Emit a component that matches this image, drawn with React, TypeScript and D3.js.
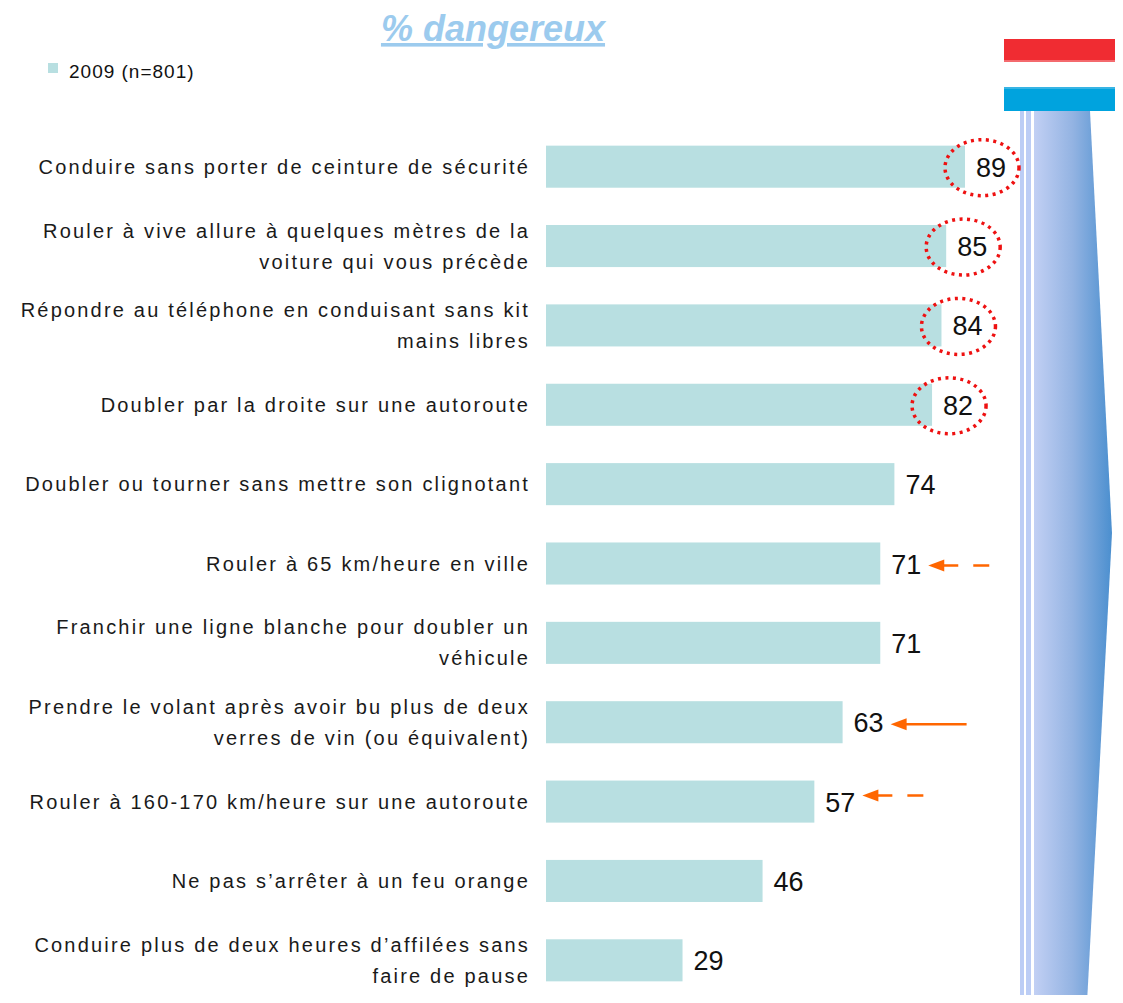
import React from "react";
import * as d3 from "d3";

const categories: string[][] = [
  ["Conduire sans porter de ceinture de sécurité"],
  ["Rouler à vive allure à quelques mètres de la", "voiture qui vous précède"],
  ["Répondre au téléphone en conduisant sans kit", "mains libres"],
  ["Doubler par la droite sur une autoroute"],
  ["Doubler ou tourner sans mettre son clignotant"],
  ["Rouler à 65 km/heure en ville"],
  ["Franchir une ligne blanche pour doubler un", "véhicule"],
  ["Prendre le volant après avoir bu plus de deux", "verres de vin (ou équivalent)"],
  ["Rouler à 160-170 km/heure sur une autoroute"],
  ["Ne pas s’arrêter à un feu orange"],
  ["Conduire plus de deux heures d’affilées sans", "faire de pause"],
];
const values: number[] = [89, 85, 84, 82, 74, 71, 71, 63, 57, 46, 29];
const circled: number[] = [0, 1, 2, 3];
// arrows: row index, style
const arrowRows: number[] = [5, 7, 8];
const arrowDashed: boolean[] = [true, false, true];
const legendLabel = "2009 (n=801)";
const title = "% dangereux";

export default function App() {
  const W = 1123, H = 1003;
  const x = d3.scaleLinear().domain([0, 100]).range([546, 546 + 470.8]);
  const y = d3.scaleBand<number>().domain(d3.range(values.length)).range([127, 1000]).paddingInner(0.47).paddingOuter(0.235);
  const bh = y.bandwidth();
  const font = "'Liberation Sans', Arial, sans-serif";
  const shape = "M1034,111 L1090,111 L1112,533 L1087,1003 L1034,1003 Z";
  return (
    <div style={{ margin: -8 }}>
      <svg width={W} height={H} style={{ display: "block" }}>
        <defs>
          <linearGradient id="grad" x1="0" x2="1" y1="0" y2="0">
            <stop offset="0" stopColor="#c2d0f4" />
            <stop offset="0.5" stopColor="#93b3e2" />
            <stop offset="1" stopColor="#4b8fcf" />
          </linearGradient>
        </defs>
        <rect x={0} y={0} width={W} height={H} fill="#fff" />
        {/* title */}
        <text x={493} y={41} textAnchor="middle" fontFamily={font} fontSize={36} fontWeight="bold" fontStyle="italic" fill="#9ccbee" textDecoration="underline">{title}</text>
        {/* legend */}
        <rect x={48} y={63} width={10} height={10} fill="#b8dfe1" />
        <text x={69} y={78} fontFamily={font} fontSize={19} letterSpacing={1} fill="#111">{legendLabel}</text>
        {/* right decoration */}
        <rect x={1004} y={39} width={119} height={21} fill="#f02c32" />
        <rect x={1004} y={60} width={119} height={2} fill="#f46a6e" />
        <rect x={1004} y={87} width={119} height={2} fill="#38b4e4" />
        <rect x={1004} y={89} width={119} height={22} fill="#00a3de" />
        <rect x={1020} y={111} width={4} height={892} fill="#bccdf5" />
        <rect x={1026} y={111} width={5} height={892} fill="#bccdf5" />
        <path d={shape} fill="url(#grad)" />
        {/* bars */}
        {values.map((v, i) => {
          const yy = y(i)!;
          const cy = yy + bh / 2;
          const lines = categories[i];
          const lh = 31;
          return (
            <g key={i}>
              <rect x={x(0)} y={yy} width={x(v) - x(0)} height={bh} fill="#b8dfe1" />
              {lines.map((ln, j) => (
                <text key={j} x={530} y={cy + (j - (lines.length - 1) / 2) * lh + 7} textAnchor="end" fontFamily={font} fontSize={20} letterSpacing={2.2} fill="#1a1a1a">{ln}</text>
              ))}
              <text x={x(v) + 11} y={cy + 10} fontFamily={font} fontSize={27} fill="#111">{v}</text>
            </g>
          );
        })}
        {/* circles */}
        {circled.map((i) => {
          const cy = y(i)! + bh / 2 + 1;
          return (
            <ellipse key={"c" + i} cx={x(values[i]) + 17} cy={cy} rx={37} ry={28} fill="none" stroke="#ee1111" strokeWidth={3.5} strokeDasharray="3 4.5" />
          );
        })}
        {/* arrows */}
        {arrowRows.map((i, k) => {
          const cy = y(i)! + bh / 2 + (k === 2 ? -6 : 2);
          const x0 = x(values[i]) + 48;
          return (
            <g key={"a" + k}>
              <path d={`M${x0},${cy} L${x0 + 16},${cy - 6} L${x0 + 16},${cy + 6} Z`} fill="#ff6600" />
              <line x1={x0 + 14} x2={x0 + 76} y1={cy} y2={cy} stroke="#ff6600" strokeWidth={2.5} strokeDasharray={arrowDashed[k] ? "16 15" : undefined} />
            </g>
          );
        })}
      </svg>
    </div>
  );
}
